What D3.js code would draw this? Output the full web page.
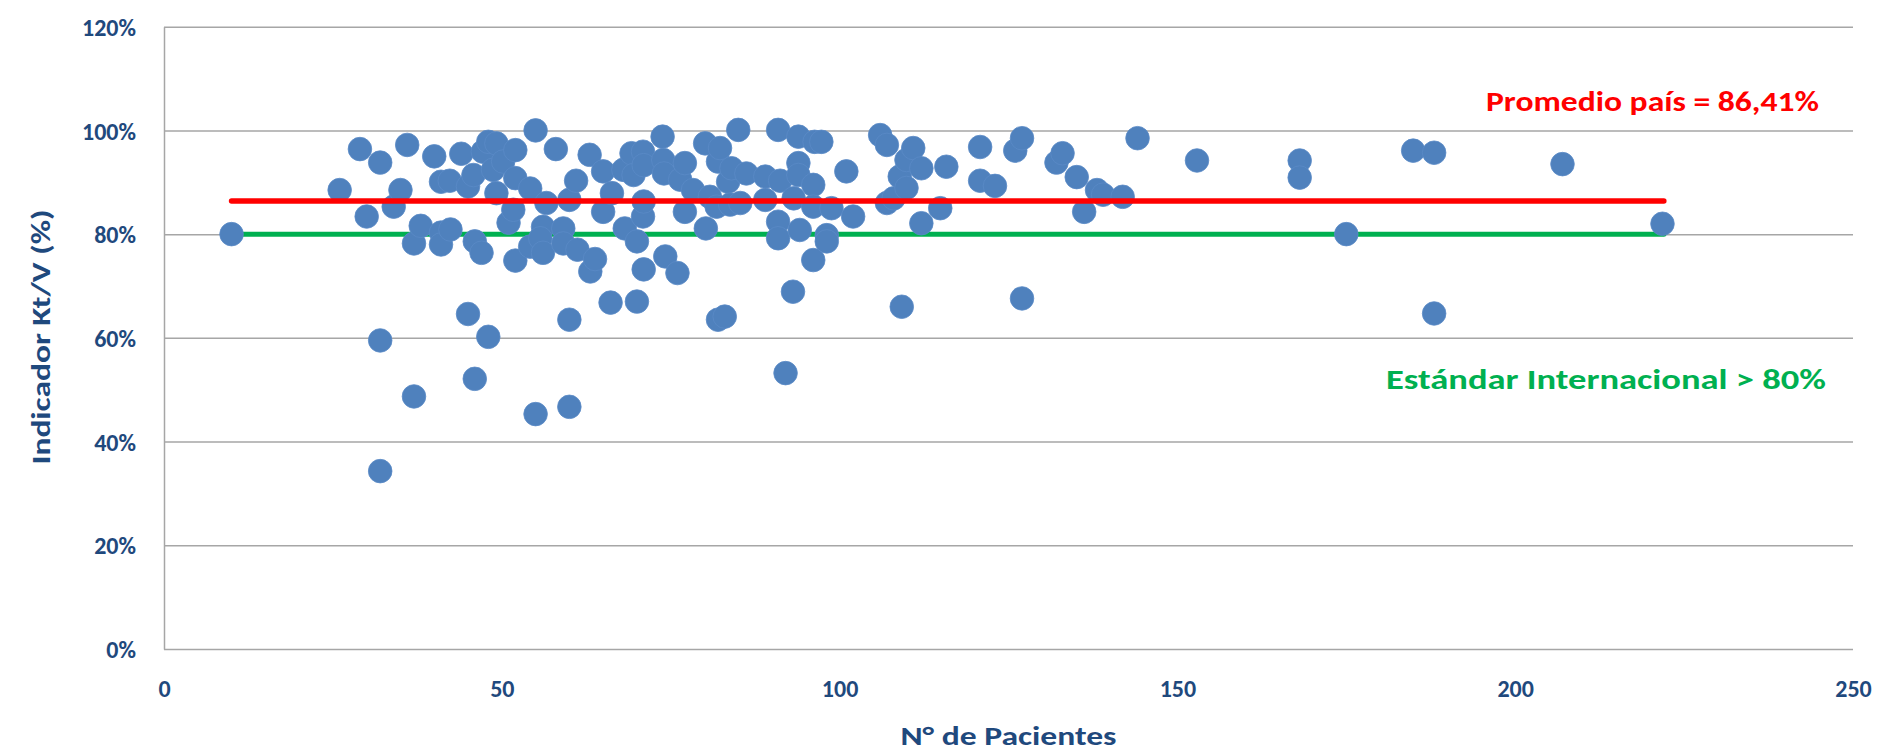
<!DOCTYPE html>
<html><head><meta charset="utf-8">
<script src="https://cdn.jsdelivr.net/npm/d3@7"></script>
<style>body{margin:0;background:#fff}svg{display:block}</style>
</head><body>
<svg id="c" width="1879" height="751"></svg>
<script>
const xTicks = [0, 50, 100, 150, 200, 250];
const yTicks = [0, 20, 40, 60, 80, 100, 120];
const pacientes = [10,26,29,30,32,32,32,34,35,36,
37,37,38,40,41,41,41,42.3,42.4,44,
45,45,45.8,46,46,47,47.2,48,48,48.7,
49.2,49.2,50.2,51,51.7,52,52,52,54.2,54.2,
55,55,56.1,55.7,56.1,56.6,58,59.1,59.1,60,
60,60,61,61.2,63,63.1,63.8,65,65,66.3,
66.1,68,68.2,69.2,69.5,70,70,70.9,71,70.9,
71,71,73.8,73.9,74,74.2,76,76.4,77.1,77.1,
78.3,80.1,80.2,80.8,81.8,82,82.3,82,83,83.5,
83.8,84,85,85.3,86.2,89,89,90.9,90.9,90.9,
91.2,92,93.1,93.2,93.9,93.9,93.9,94.1,96.1,96.1,
96.1,96.3,97.3,98.1,98.1,98.8,101,102,106,107,
107,108,108.9,109.2,109.9,109.9,110.9,112.1,112.1,114.9,
115.8,120.8,120.8,123,126,127,127,132.1,133,135.1,
136.2,138.1,139,141.9,144.1,152.9,168.1,168.1,175,184.9,
188,188,207,221.8];
const ktv = [80.0,88.5,96.4,83.4,93.8,59.5,34.3,85.3,88.5,97.2,
48.7,78.2,81.6,95.0,90.1,80.3,78.0,90.3,80.9,95.5,
64.6,89.2,91.4,52.1,78.6,76.4,95.9,97.8,60.2,92.4,
97.5,87.9,94.0,82.2,84.7,96.2,90.8,74.9,88.8,77.6,
100.0,45.3,81.4,79.2,76.4,86.0,96.4,81.1,78.2,86.6,
63.5,46.7,90.3,77.0,95.3,72.8,75.2,92.1,84.3,87.9,
66.8,92.4,81.1,95.6,91.4,78.6,67.0,95.9,93.3,83.4,
86.3,73.2,98.8,94.3,91.7,75.7,72.5,90.5,93.7,84.3,
88.5,97.5,81.1,87.2,85.3,94.0,96.6,63.5,64.1,90.1,
85.7,92.7,100.1,86.0,91.7,91.1,86.6,100.1,82.4,79.2,
90.3,53.2,68.9,86.9,98.8,93.7,91.4,80.8,89.5,85.3,
75.0,97.8,97.8,79.8,78.6,85.0,92.1,83.4,99.1,97.2,
86.0,86.9,91.1,66.0,94.3,88.9,96.6,92.7,82.1,85.0,
93.0,96.8,90.3,89.3,96.1,98.5,67.6,93.8,95.6,91.0,
84.3,88.5,87.6,87.2,98.5,94.2,94.2,90.9,80.0,96.1,
95.7,64.7,93.5,82.0];
const promedio = 86.41;
const estandar = 80;
const lineRange = [10, 222];
const promedioLabel = "Promedio país = 86,41%";
const estandarLabel = "Estándar Internacional > 80%";
const xTitle = "N° de Pacientes";
const yTitle = "Indicador Kt/V (%)";

const svg = d3.select("#c");
const FONT = "Carlito, Calibri, Lato, 'Open Sans', sans-serif";
const TXT = "#1F497D";
const L = 164, R = 1853, T = 26.7, B = 649;
const x = d3.scaleLinear().domain([0, 250]).range([L, R]);
const y = d3.scaleLinear().domain([0, 120]).range([B, T]);

// Y axis with gridlines
const gy = svg.append("g").attr("transform", `translate(${L},0)`)
  .call(d3.axisLeft(y).tickValues(yTicks).tickFormat(d => d + "%")
    .tickSize(-(R - L)).tickSizeOuter(0).tickPadding(28));
gy.select(".domain").attr("stroke", "#A6A6A6").attr("stroke-width", 1.5);
gy.selectAll(".tick line").attr("stroke", "#A6A6A6").attr("stroke-width", 1.5);
gy.selectAll(".tick text").attr("fill", TXT).attr("font-family", FONT)
  .attr("font-size", 24).attr("font-weight", "bold").attr("dy", "0.36em");

// X axis labels
const gx = svg.append("g").attr("transform", `translate(0,${B})`)
  .call(d3.axisBottom(x).tickValues(xTicks).tickSize(0).tickPadding(0));
gx.select(".domain").remove();
gx.selectAll(".tick text").attr("fill", TXT).attr("font-family", FONT)
  .attr("font-size", 24).attr("font-weight", "bold").attr("y", 39).attr("dy", "0.36em");

// Standard line (under dots)
svg.append("line")
  .attr("x1", x(lineRange[0])).attr("x2", x(lineRange[1]))
  .attr("y1", y(estandar)).attr("y2", y(estandar))
  .attr("stroke", "#00B050").attr("stroke-width", 5).attr("stroke-linecap", "round");

// Dots
svg.append("g").selectAll("circle").data(d3.zip(pacientes, ktv)).join("circle")
  .attr("cx", d => x(d[0])).attr("cy", d => y(d[1])).attr("r", 11.8)
  .attr("fill", "#4F81BD").attr("stroke", "#5A8AC6").attr("stroke-width", 0.8);

// Average line (over dots)
svg.append("line")
  .attr("x1", x(lineRange[0])).attr("x2", x(lineRange[1]))
  .attr("y1", y(promedio)).attr("y2", y(promedio))
  .attr("stroke", "#FF0000").attr("stroke-width", 5.5).attr("stroke-linecap", "round");

// Annotations
svg.append("text").text(promedioLabel)
  .attr("x", 1486).attr("y", 111).attr("fill", "#FF0000")
  .attr("font-family", FONT).attr("font-size", 28).attr("font-weight", "bold")
  .attr("textLength", 333).attr("lengthAdjust", "spacingAndGlyphs");
svg.append("text").text(estandarLabel)
  .attr("x", 1386).attr("y", 389).attr("fill", "#00B050")
  .attr("font-family", FONT).attr("font-size", 28).attr("font-weight", "bold")
  .attr("textLength", 440).attr("lengthAdjust", "spacingAndGlyphs");

// Axis titles
svg.append("text").text(xTitle)
  .attr("x", (L + R) / 2).attr("y", 745).attr("text-anchor", "middle")
  .attr("fill", TXT).attr("font-family", FONT).attr("font-size", 27).attr("font-weight", "bold")
  .attr("textLength", 216).attr("lengthAdjust", "spacingAndGlyphs");
svg.append("text").text(yTitle)
  .attr("transform", "translate(50,337) rotate(-90)").attr("text-anchor", "middle")
  .attr("fill", TXT).attr("font-family", FONT).attr("font-size", 27).attr("font-weight", "bold")
  .attr("textLength", 255).attr("lengthAdjust", "spacingAndGlyphs");
</script>
</body></html>
